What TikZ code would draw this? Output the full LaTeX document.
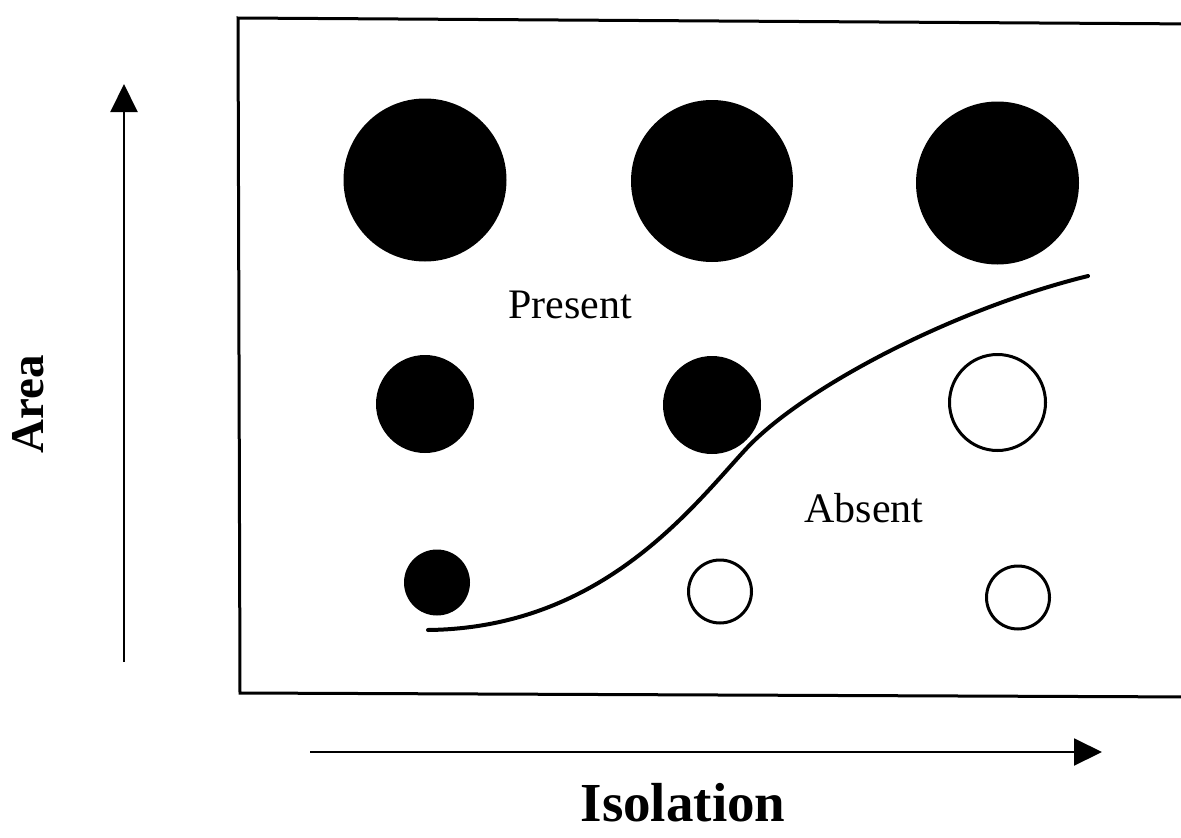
\documentclass[tikz,border=0pt]{standalone}
\usepackage{fontspec}
\setmainfont{Liberation Serif}
\usetikzlibrary{arrows.meta}
\begin{document}
\begin{tikzpicture}[x=1pt,y=-1pt,
  dot/.style={circle,fill=black,draw=none,inner sep=0pt},
  hole/.style={circle,draw=black,line width=3pt,fill=white,inner sep=0pt},
  axisarrow/.style={line width=2pt,-{Triangle[length=28pt,width=27pt]}},
  region/.style={font=\fontsize{42}{48}\selectfont},
  axislabel/.style={inner sep=0pt}]
\useasboundingbox (0,0) rectangle (1181,838);
% frame
\draw[line width=3pt] (1200,24) -- (238,18) -- (240,693) -- (1200,697);
% circles
\node[dot,minimum size=163pt] (c11) at (425,180) {};
\node[dot,minimum size=162pt] (c12) at (712,181) {};
\node[dot,minimum size=163pt] (c13) at (997.5,183) {};
\node[dot,minimum size=98pt] (c21) at (425,404) {};
\node[dot,minimum size=98pt] (c22) at (712,405) {};
\node[hole,minimum size=96pt] (c23) at (997.5,402.5) {};
\node[dot,minimum size=66pt] (c31) at (437,582.5) {};
\node[hole,minimum size=63pt] (c32) at (720,591.5) {};
\node[hole,minimum size=63pt] (c33) at (1018,597.5) {};
% boundary curve
\coordinate (cs) at (428,630);
\coordinate (cm) at (745,450);
\coordinate (ce) at (1088,276);
\draw[line width=4pt,line cap=round] (cs) .. controls (600,628) and (690,510) .. (cm)
  .. controls (800,390) and (950,310) .. (ce);
% labels
\node[region] (present) at (570,305) {Present};
\node[region] (absent) at (864,508) {Absent};
% axes
\coordinate (ya) at (124,662);
\coordinate (yb) at (124,84);
\draw[axisarrow] (ya) -- (yb);
\coordinate (xa) at (310,752);
\coordinate (xb) at (1102,752);
\draw[axisarrow] (xa) -- (xb);
\node[axislabel,font=\bfseries\fontsize{47}{54}\selectfont,rotate=90] (area) at (28,404) {Area};
\node[axislabel,font=\bfseries\fontsize{55}{62}\selectfont] (iso) at (683,803) {Isolation};
\end{tikzpicture}
\end{document}
